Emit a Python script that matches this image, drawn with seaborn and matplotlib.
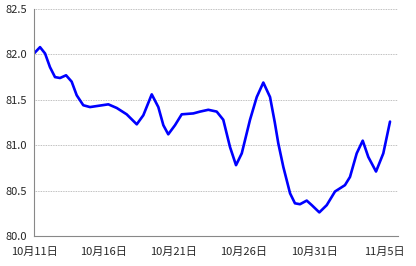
import matplotlib
matplotlib.use("Agg")
import matplotlib.pyplot as plt
import seaborn as sns
import pandas as pd

# Days since Oct 11 and values
days = [0.0, 0.43, 0.79, 1.14, 1.5, 1.86, 2.29, 2.69, 3.05, 3.52, 4.0, 5.31, 5.91,
        6.62, 7.34, 7.81, 8.41, 8.88, 9.24, 9.59, 10.07, 10.55, 11.38, 11.86, 12.45,
        13.05, 13.52, 14.0, 14.43, 14.84, 15.43, 15.91, 16.38, 16.86, 17.2, 17.45,
        17.81, 18.29, 18.64, 19.0, 19.48, 19.84, 20.38, 20.91, 21.5, 22.21, 22.57,
        23.05, 23.48, 23.88, 24.43, 24.95, 25.43]
values = [82.01, 82.08, 82.01, 81.86, 81.75, 81.74, 81.77, 81.70, 81.55, 81.44, 81.42,
          81.45, 81.41, 81.34, 81.23, 81.33, 81.56, 81.42, 81.22, 81.12, 81.22, 81.34,
          81.35, 81.37, 81.39, 81.37, 81.28, 80.98, 80.78, 80.91, 81.28, 81.53, 81.69,
          81.53, 81.25, 81.02, 80.76, 80.47, 80.36, 80.35, 80.39, 80.34, 80.26, 80.34,
          80.49, 80.56, 80.65, 80.91, 81.05, 80.87, 80.71, 80.91, 81.26]
tick_days = [0, 5, 10, 15, 20, 25]
tick_labels = ["10月11日", "10月16日", "10月21日", "10月26日", "10月31日", "11月5日"]
y_ticks = [80.0, 80.5, 81.0, 81.5, 82.0, 82.5]

sns.set_style("white")
plt.rcParams['font.family'] = ['Noto Sans CJK SC', 'DejaVu Sans']

fig = plt.figure(figsize=(4.16, 2.66), dpi=100)
ax = fig.add_axes([34/416, 1-236/266, (398-34)/416, (236-9)/266])

df = pd.DataFrame({"day": days, "value": values})
sns.lineplot(data=df, x="day", y="value", ax=ax, color="#0000ff", linewidth=1.9)
ax.lines[0].set_solid_joinstyle("round")

ax.set_xlim(0, 26)
ax.set_ylim(80.0, 82.5)
ax.set_xticks(tick_days)
ax.set_xticklabels(tick_labels)
ax.set_yticks(y_ticks)
ax.set_yticklabels([f"{v:.1f}" for v in y_ticks])
ax.set_xlabel("")
ax.set_ylabel("")

for y in y_ticks[1:]:
    ax.axhline(y, color="#aaaaaa", linestyle=(0, (1, 1)), linewidth=0.6, zorder=0)

for s in ["top", "right"]:
    ax.spines[s].set_visible(False)
for s in ["left", "bottom"]:
    ax.spines[s].set_color("#888888")
    ax.spines[s].set_linewidth(0.8)

ax.tick_params(axis="x", direction="in", length=3, color="#888888", labelsize=8, pad=8)
ax.tick_params(axis="y", length=0, labelsize=8, pad=5)

fig.savefig("out.png", dpi=100)
